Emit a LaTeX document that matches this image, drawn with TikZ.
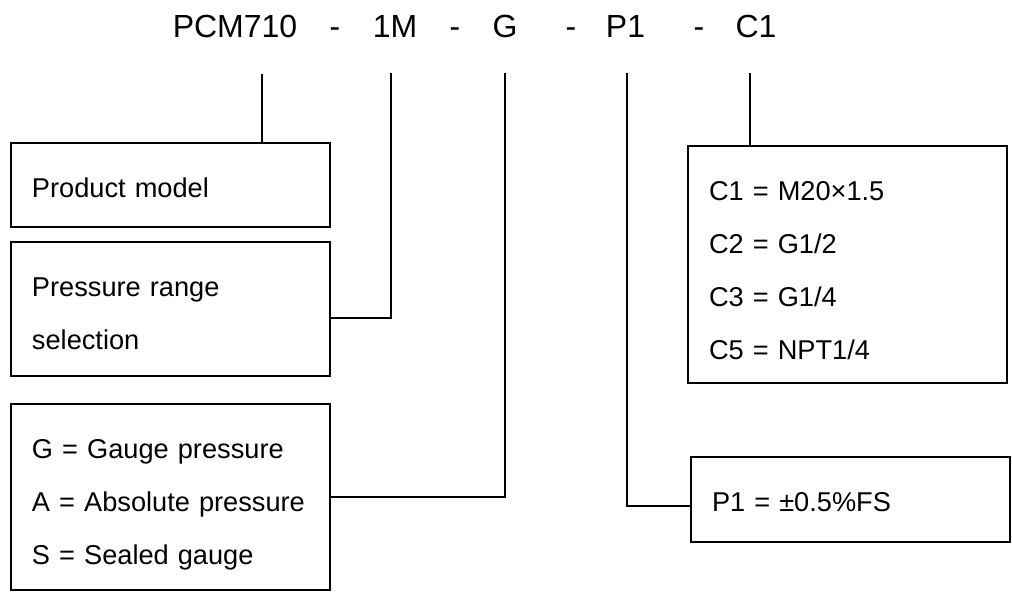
\documentclass[tikz,border=0pt]{standalone}
\usepackage{fontspec}
\setmainfont{Liberation Sans}
\begin{document}
\begin{tikzpicture}[x=0.5pt,y=-0.5pt,
    code/.style={font=\fontsize{16}{19}\selectfont,inner sep=0pt,anchor=base},
    box/.style={draw,line width=0.8pt,text width=138.5pt,inner xsep=10.5pt,inner ysep=0pt,align=left,
      font=\fontsize{13.6}{26.5}\selectfont,minimum height=#1,
      text height=27.25pt,text depth={\dimexpr#1-27.25pt\relax}},
    lead/.style={line width=1.4pt},
    leadthin/.style={line width=0.9pt}]
  \useasboundingbox (0,0) rectangle (1012,595);

  \node[code] (model) at (235,37) {PCM710};
  \node[code] (dash1) at (335,37) {-};
  \node[code] (range) at (395,37) {1M};
  \node[code] (dash2) at (455,37) {-};
  \node[code] (kind) at (505,37) {G};
  \node[code] (dash3) at (571,37) {-};
  \node[code] (acc) at (625.5,37) {P1};
  \node[code] (dash4) at (699,37) {-};
  \node[code] (thread) at (756,37) {C1};

  \coordinate (t1) at (262,74);
  \coordinate (t2) at (391,73);
  \coordinate (t3) at (505,73);
  \coordinate (t4) at (627,73);
  \coordinate (t5) at (750,73);

  \node[box=42pt] (pm) at (170.5,185) {Product model};
  \node[box=67pt] (pr) at (170.5,309) {Pressure range\\selection};
  \node[box=93pt] (gs) at (170.5,497) {G = Gauge pressure\\A = Absolute pressure\\S = Sealed gauge};
  \node[box=118.5pt] (cs) at (847.5,264.5) {C1 = M20×1.5\\C2 = G1/2\\C3 = G1/4\\C5 = NPT1/4};
  \node[box=42.5pt] (p1) at (850.5,499.5) {P1 = ±0.5\%FS};

  \draw[lead] (t1) -- (t1 |- pm.north);
  \draw[leadthin] (t2) |- ([yshift=-4.5pt]pr.east);
  \draw[leadthin] (t3) |- (gs.east);
  \draw[lead] (t4) |- ([yshift=-3.25pt]p1.west);
  \draw[lead] (t5) -- (t5 |- cs.north);
\end{tikzpicture}
\end{document}
